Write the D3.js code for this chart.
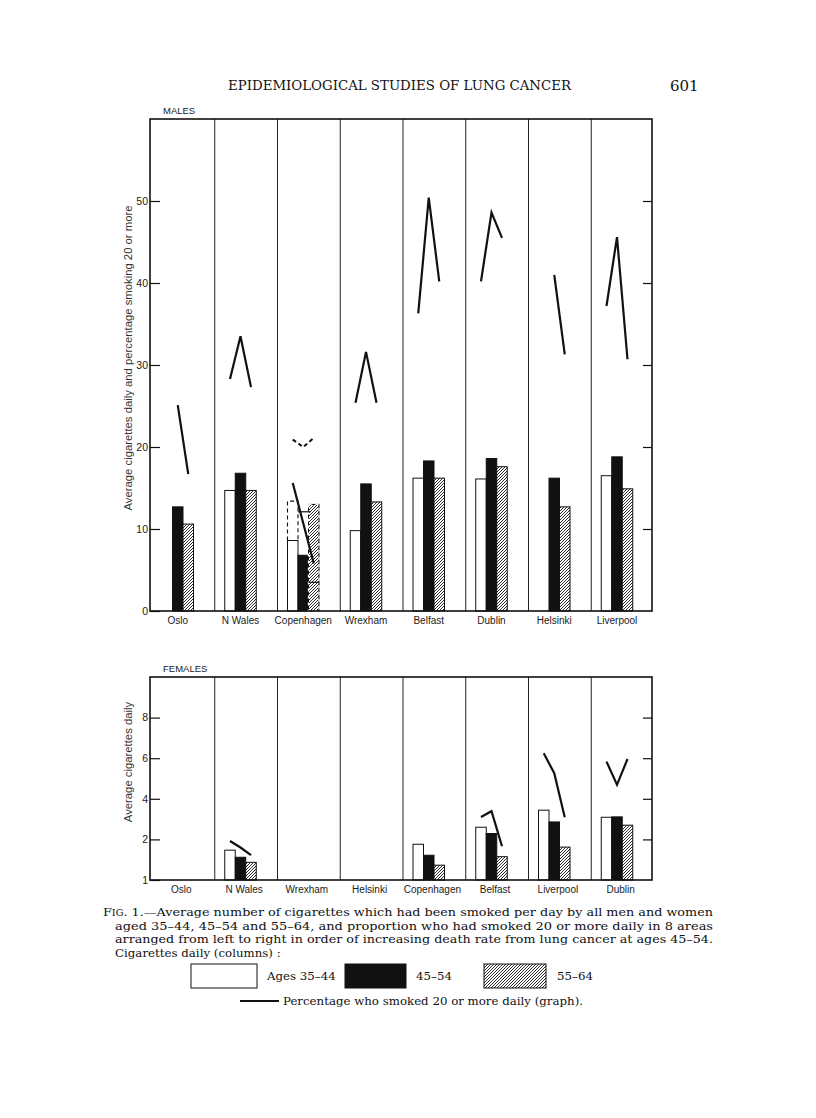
<!DOCTYPE html>
<html>
<head>
<meta charset="utf-8">
<script src="https://cdn.jsdelivr.net/npm/d3@7"></script>
<style>
  body { margin: 0; background: #fff; }
  .sans { font-family: "Liberation Sans", Arial, sans-serif; fill: #1a1a1a; }
  .serif { font-family: "DejaVu Serif", "Liberation Serif", serif; fill: #111; }
</style>
</head>
<body>
<script>
// ---- males (top chart) ----
var maleAreas = ["Oslo", "N Wales", "Copenhagen", "Wrexham", "Belfast", "Dublin", "Helsinki", "Liverpool"];
var male3544 = [null, 14.7, 8.6, 9.8, 16.2, 16.1, null, 16.5];
var male4554 = [12.7, 16.8, 6.8, 15.5, 18.3, 18.6, 16.2, 18.8];
var male5564 = [10.6, 14.7, 13.0, 13.3, 16.2, 17.6, 12.7, 14.9];
// percentage smoking 20 or more, one point per age group
var malePct = [
  [null, 25.1, 16.7],
  [28.3, 33.5, 27.3],
  [15.6, 10.7, 5.8],
  [25.4, 31.6, 25.4],
  [36.3, 50.4, 40.2],
  [40.2, 48.6, 45.5],
  [null, 41.0, 31.3],
  [37.2, 45.6, 30.7]
];
var maleTicks = [0, 10, 20, 30, 40, 50];
var maleTickLabels = ["0", "10", "20", "30", "40", "50"];

// Copenhagen alternative figures (dashed)
var copDashed3544 = 13.4;
var copAlt4554 = 12.1;
var copMark5564 = 3.5;
var copDashedPct = [20.9, 20.0, 21.1];

// ---- females (bottom chart) ----
var femaleAreas = ["Oslo", "N Wales", "Wrexham", "Helsinki", "Copenhagen", "Belfast", "Liverpool", "Dublin"];
var female3544 = [null, 1.47, null, null, 1.76, 2.6, 3.44, 3.09];
var female4554 = [null, 1.12, null, null, 1.22, 2.29, 2.86, 3.11];
var female5564 = [null, 0.87, null, null, 0.73, 1.15, 1.62, 2.70];
var femalePct = [
  null,
  [1.92, 1.6, 1.22],
  null,
  null,
  null,
  [3.1, 3.39, 1.66],
  [6.24, 5.26, 3.09],
  [5.83, 4.69, 5.96]
];
var femaleTicks = [0, 2, 4, 6, 8];
var femaleTickLabels = ["1", "2", "4", "6", "8"];

var captionLines = [
  "aged 35–44, 45–54 and 55–64, and proportion who had smoked 20 or more daily in 8 areas",
  "arranged from left to right in order of increasing death rate from lung cancer at ages 45–54.",
  "Cigarettes daily (columns) :"
];
var legendLabels = ["Ages 35–44", "45–54", "55–64"];

var svgWidth = 816;
var svgHeight = 1118;

var svg = d3.select("body")
  .append("svg")
  .attr("width", svgWidth)
  .attr("height", svgHeight);

var defs = svg.append("defs");
var hatch = defs.append("pattern")
  .attr("id", "hatch")
  .attr("patternUnits", "userSpaceOnUse")
  .attr("width", 3)
  .attr("height", 3);
hatch.append("rect").attr("width", 3).attr("height", 3).attr("fill", "#fff");
hatch.append("path")
  .attr("d", "M-1,1 l2,-2 M0,3 l3,-3 M2,4 l2,-2")
  .attr("stroke", "#111")
  .attr("stroke-width", 0.9);

var fills = ["#fff", "#111", "url(#hatch)"];
var plotLeft = 150, plotRight = 652;
var barOffset = 12, barW = 10.5;

function drawPanel(cfg) {
  var x = d3.scaleBand().domain(cfg.areas).range([plotLeft, plotRight]);
  var y = d3.scaleLinear().domain([0, cfg.max]).range([cfg.bottom, cfg.top]);
  var g = svg.append("g");
  var series = [cfg.a, cfg.b, cfg.c];

  function barX(area, s) { return x(area) + barOffset + s * barW; }

  // dividers between areas
  g.selectAll(".divider")
    .data(cfg.areas.slice(1))
    .enter()
    .append("line")
    .attr("x1", d => x(d) + 2).attr("x2", d => x(d) + 2)
    .attr("y1", cfg.top).attr("y2", cfg.bottom)
    .attr("stroke", "#222")
    .attr("stroke-width", 1);

  // columns
  series.forEach(function(vals, s) {
    g.selectAll(".bar" + s)
      .data(cfg.areas.map((a, i) => ({ area: a, v: vals[i] })).filter(d => d.v != null))
      .enter()
      .append("rect")
      .attr("x", d => barX(d.area, s))
      .attr("y", d => y(d.v))
      .attr("width", barW)
      .attr("height", d => y(0) - y(d.v))
      .attr("fill", fills[s])
      .attr("stroke", "#111")
      .attr("stroke-width", 1);
  });

  if (cfg.extra) cfg.extra(g, x, y, barX);

  // percentage graph
  var line = d3.line()
    .defined(d => d.v != null)
    .x(d => d.x)
    .y(d => y(d.v));
  cfg.areas.forEach(function(area, i) {
    var p = cfg.pct[i];
    if (!p) return;
    var pts = p.map((v, s) => ({ x: barX(area, s) + barW / 2, v: v }));
    g.append("path")
      .attr("d", line(pts))
      .attr("fill", "none")
      .attr("stroke", "#111")
      .attr("stroke-width", 2.2);
  });

  // frame
  g.append("rect")
    .attr("x", plotLeft).attr("y", cfg.top)
    .attr("width", plotRight - plotLeft)
    .attr("height", cfg.bottom - cfg.top)
    .attr("fill", "none")
    .attr("stroke", "#111")
    .attr("stroke-width", 1.6);

  // axes, ticks pointing inward
  var yAxis = d3.axisLeft(y)
    .tickValues(cfg.ticks)
    .tickSize(-10)
    .tickPadding(2)
    .tickFormat((d, i) => cfg.tickLabels[i]);
  var ga = g.append("g").attr("transform", `translate(${plotLeft},0)`).call(yAxis);
  ga.select(".domain").remove();
  ga.selectAll("line").attr("stroke", "#111").attr("stroke-width", 1.2);
  ga.selectAll("text").attr("class", "sans").style("font-size", "10.5px");

  var yAxisR = d3.axisRight(y)
    .tickValues(cfg.ticks.filter(d => d > 0))
    .tickSize(-9)
    .tickFormat("");
  var gr = g.append("g").attr("transform", `translate(${plotRight},0)`).call(yAxisR);
  gr.select(".domain").remove();
  gr.selectAll("line").attr("stroke", "#111").attr("stroke-width", 1.2);

  // area labels
  g.selectAll(".area-label")
    .data(cfg.areas)
    .enter()
    .append("text")
    .attr("class", "sans")
    .attr("x", d => cfg.labelAtGroup ? x(d) + barOffset + 1.5 * barW : x(d) + x.bandwidth() / 2)
    .attr("y", cfg.bottom + 13)
    .attr("text-anchor", "middle")
    .style("font-size", "10px")
    .text(d => d);

  // panel title and y title
  g.append("text")
    .attr("class", "sans")
    .attr("x", 163).attr("y", cfg.top - 5)
    .style("font-size", "9.5px")
    .text(cfg.title);

  g.append("text")
    .attr("class", "sans")
    .attr("transform", `translate(132, ${cfg.titleY}) rotate(-90)`)
    .attr("text-anchor", "middle")
    .style("font-size", "11.3px")
    .style("fill", "#333")
    .text(cfg.yTitle);
}

drawPanel({
  areas: maleAreas, a: male3544, b: male4554, c: male5564, pct: malePct,
  top: 119, bottom: 611, max: 60,
  ticks: maleTicks, tickLabels: maleTickLabels,
  title: "MALES", titleY: 358, labelAtGroup: true,
  yTitle: "Average cigarettes daily and percentage smoking 20 or more",
  extra: function(g, x, y, barX) {
    var c = "Copenhagen";
    // dashed outline above the 35-44 column
    g.append("path")
      .attr("d", `M${barX(c, 0)},${y(male3544[2])} V${y(copDashed3544)} H${barX(c, 1)} V${y(male3544[2])}`)
      .attr("fill", "none").attr("stroke", "#111").attr("stroke-width", 1.1)
      .attr("stroke-dasharray", "4,3");
    // dashed outline round the 55-64 column
    g.append("rect")
      .attr("x", barX(c, 2)).attr("y", y(male5564[2]))
      .attr("width", barW).attr("height", y(0) - y(male5564[2]))
      .attr("fill", "none").attr("stroke", "#fff").attr("stroke-width", 1.3)
      .attr("stroke-dasharray", "3,4");
    // alternative level marks
    g.append("line")
      .attr("x1", barX(c, 1)).attr("x2", barX(c, 2) + 2)
      .attr("y1", y(copAlt4554)).attr("y2", y(copAlt4554))
      .attr("stroke", "#111").attr("stroke-width", 1.2);
    g.append("line")
      .attr("x1", barX(c, 2)).attr("x2", barX(c, 3))
      .attr("y1", y(copMark5564)).attr("y2", y(copMark5564))
      .attr("stroke", "#111").attr("stroke-width", 1.2);
    // dashed percentage graph
    var pts = copDashedPct.map((v, s) => [barX(c, s) + barW / 2, y(v)]);
    g.append("path")
      .attr("d", d3.line()(pts))
      .attr("fill", "none").attr("stroke", "#111").attr("stroke-width", 2)
      .attr("stroke-dasharray", "4,3");
  }
});

drawPanel({
  areas: femaleAreas, a: female3544, b: female4554, c: female5564, pct: femalePct,
  top: 677, bottom: 880, max: 10,
  ticks: femaleTicks, tickLabels: femaleTickLabels,
  title: "FEMALES", titleY: 762, labelAtGroup: false,
  yTitle: "Average cigarettes daily"
});

// running head
svg.append("text")
  .attr("class", "serif")
  .attr("x", 228).attr("y", 90)
  .attr("textLength", 343)
  .attr("lengthAdjust", "spacingAndGlyphs")
  .style("font-size", "12px")
  .text("EPIDEMIOLOGICAL STUDIES OF LUNG CANCER");

svg.append("text")
  .attr("class", "serif")
  .attr("x", 670).attr("y", 91)
  .style("font-size", "15px")
  .text("601");

// caption
var cap1 = svg.append("text")
  .attr("class", "serif")
  .attr("x", 103).attr("y", 916)
  .attr("textLength", 610)
  .attr("lengthAdjust", "spacingAndGlyphs")
  .style("font-size", "11.8px");
cap1.append("tspan").text("F");
cap1.append("tspan").style("font-size", "9px").text("IG");
cap1.append("tspan").text(". 1.—Average number of cigarettes which had been smoked per day by all men and women");

captionLines.forEach(function(t, i) {
  var el = svg.append("text")
    .attr("class", "serif")
    .attr("x", 115).attr("y", 929.5 + i * 13.5)
    .style("font-size", "11.8px")
    .text(t);
  if (i < 2) el.attr("textLength", 598).attr("lengthAdjust", "spacingAndGlyphs");
});

// legend
var legendBoxes = [
  { x: 191, w: 66, fill: "#fff", label: legendLabels[0], lx: 267 },
  { x: 345, w: 61, fill: "#111", label: legendLabels[1], lx: 416 },
  { x: 484, w: 62, fill: "url(#hatch)", label: legendLabels[2], lx: 557 }
];
svg.selectAll(".legend-box")
  .data(legendBoxes)
  .enter()
  .append("rect")
  .attr("x", d => d.x).attr("y", 964)
  .attr("width", d => d.w).attr("height", 24)
  .attr("fill", d => d.fill)
  .attr("stroke", "#111").attr("stroke-width", 1);
svg.selectAll(".legend-label")
  .data(legendBoxes)
  .enter()
  .append("text")
  .attr("class", "serif")
  .attr("x", d => d.lx).attr("y", 980)
  .style("font-size", "11.8px")
  .text(d => d.label);

svg.append("line")
  .attr("x1", 240).attr("x2", 279)
  .attr("y1", 1001).attr("y2", 1001)
  .attr("stroke", "#111").attr("stroke-width", 2);
svg.append("text")
  .attr("class", "serif")
  .attr("x", 283).attr("y", 1005)
  .attr("textLength", 300)
  .attr("lengthAdjust", "spacingAndGlyphs")
  .style("font-size", "11.8px")
  .text("Percentage who smoked 20 or more daily (graph).");
</script>
</body>
</html>
